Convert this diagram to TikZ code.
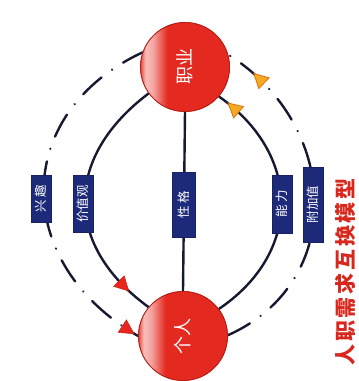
\documentclass[tikz,border=0pt]{standalone}
\usepackage{graphicx}
\usepackage{fontspec}
\newfontfamily\cjk{Noto Sans CJK SC}
\newfontfamily\cjkwide[LetterSpace=13]{Noto Sans CJK SC}
\usetikzlibrary{decorations.markings}

\definecolor{ballred}{HTML}{E42A20}
\definecolor{ballrim}{HTML}{B51C14}
\definecolor{tagblue}{HTML}{1D2A7A}
\definecolor{inkline}{HTML}{151A30}
\definecolor{arrred}{HTML}{E8261E}
\definecolor{arrorange}{HTML}{F4A922}
\definecolor{arrrim}{HTML}{E0700F}
\definecolor{titlered}{HTML}{D8281E}

% glossy highlight along the left rim of the red balls
\pgfdeclarehorizontalshading{ballshade}{100bp}{color(0bp)=(ballred); color(25bp)=(ballred!85!white); color(28bp)=(ballred!30!white); color(32bp)=(ballred!42!white); color(40bp)=(ballred); color(100bp)=(ballred)}

% arrow heads placed along the connectors
\newcommand\tipred{\filldraw[solid,line width=0.5pt,fill=arrred,draw=arrred!85!black] (8,0)--(-6,7.5)--(-6,-7.5)--cycle;}
\newcommand\tiporange{\filldraw[solid,line width=0.8pt,fill=arrorange,draw=arrrim] (8,0)--(-6,7.5)--(-6,-7.5)--cycle;}

\tikzset{
  ball/.style={circle, shading=ballshade, draw=ballrim, line width=0.8pt,
    minimum size=89pt, inner sep=0pt, text=white,
    font=\cjk\fontsize{18}{18}\selectfont},
  tag/.style={rectangle, fill=tagblue, draw=tagblue!80!black, line width=0.5pt,
    rotate=90, inner sep=0pt, minimum height=20pt, text=white,
    font=\cjk\fontsize{12.5}{12.5}\selectfont},
  link/.style={draw=inkline, line width=2.4pt},
  chain/.style={draw=inkline, line width=2.4pt, line cap=round,
    dash pattern=on 25pt off 13pt on 0.1pt off 13pt},
  headred/.style={postaction={decorate, decoration={markings, mark=at position #1 with {\tipred}}}},
  headorange/.style={postaction={decorate, decoration={markings, mark=at position #1 with {\tiporange}}}}
}

\begin{document}
\begin{tikzpicture}[x=1pt,y=1pt]
\useasboundingbox (0,0) rectangle (359,381);
\fill[white] (0,0) rectangle (359,381);

% the two balls (drawn first for anchors, redrawn on top below)
\path (185,314) node[ball] (job) {}
      (183,45) node[ball] (me) {};

% inner solid ring
\draw[link, headred=0.87] (job.216) to[out=217,in=144,looseness=1.27] (me.140);
\draw[link, headorange=0.925] (me.37) to[out=34,in=-35,looseness=1.22] (job.319);
\draw[link] (job.south) -- (me.north);

% outer dash-dot ring
\draw[chain, dash phase=3pt, headred=0.965] (job.161) to[out=205,in=150,looseness=1.31] (me.180);
\draw[chain, headorange=0.885] (me.1) to[out=24,in=-32,looseness=1.2] (job.16);

% tags on the connectors
\node[tag, minimum width=47pt] (xq) at (41,182) {兴 趣};
\node[tag, minimum width=57pt] (jzg) at (83,177) {价值观};
\node[tag, minimum width=65pt, minimum height=23pt] (xg) at (183.5,176.5) {性 格};
\node[tag, minimum width=58pt] (nl) at (282,177) {能 力};
\node[tag, minimum width=75pt] (fjz) at (313,176.5) {附加值};

% balls on top of the line ends
\node[ball] (job2) at (job) {\rotatebox{90}{职业}};
\node[ball] (me2) at (me) {\rotatebox{90}{个人}};

% title
\node[rotate=90, text=titlered, inner sep=0pt, font=\cjkwide\bfseries\fontsize{21}{21}\selectfont] (title) at (345,109) {人职需求互换模型};
\end{tikzpicture}
\end{document}
